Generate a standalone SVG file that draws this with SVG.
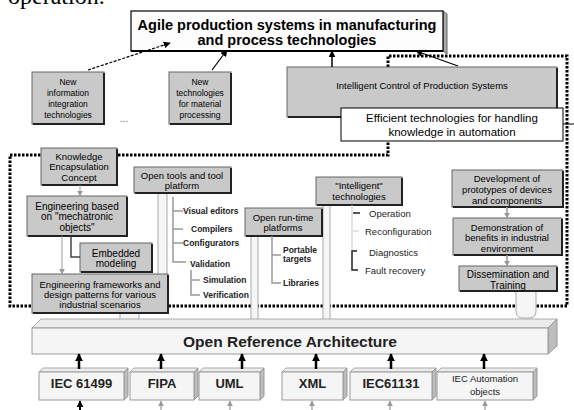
<svg xmlns="http://www.w3.org/2000/svg" width="574" height="410" viewBox="0 0 574 410">
<defs>
<marker id="ah" viewBox="0 0 10 10" refX="9" refY="5" markerWidth="7" markerHeight="7" markerUnits="userSpaceOnUse" orient="auto"><path d="M0,0 L10,5 L0,10 z" fill="#000"/></marker>
<marker id="ahb" viewBox="0 0 10 10" refX="9" refY="5" markerWidth="8" markerHeight="8" markerUnits="userSpaceOnUse" orient="auto"><path d="M0,0 L10,5 L0,10 z" fill="#000"/></marker>
<marker id="ahg" viewBox="0 0 10 10" refX="9" refY="5" markerWidth="6" markerHeight="6" markerUnits="userSpaceOnUse" orient="auto"><path d="M0,0 L10,5 L0,10 z" fill="#999"/></marker>
</defs>
<style>
text{font-family:"Liberation Sans",Arial,sans-serif;fill:#000}
.c{text-anchor:middle}
.s8{font-size:8.5px}
.s9{font-size:9.5px}
.s10{font-size:10px}
.b{font-weight:bold}
.tree{font-size:8.5px;font-weight:bold;fill:#222}
.it{font-size:9.5px;fill:#222}
.g{fill:#c9c9c9;stroke:#666;stroke-width:1}
.sh{fill:none;stroke:#222;stroke-width:2}
.w{fill:#fff;stroke:#000;stroke-width:1}
.col{fill:#f6f6f6;stroke:#aaa;stroke-width:1}
.tl{fill:none;stroke:#999;stroke-width:1.5}
.tk{fill:none;stroke:#222;stroke-width:1.5}
.front{fill:#f5f5f5;stroke:#999;stroke-width:1}
.top{fill:#ececec;stroke:#aaa;stroke-width:1}
.side{fill:#bdbdbd;stroke:#999;stroke-width:1}
.up{stroke:#000;stroke-width:2.5;marker-end:url(#ahb)}
.dn{stroke:#999;stroke-width:1.2;marker-end:url(#ahg)}
</style>
<rect width="574" height="410" fill="#fff"/>
<text x="8" y="4" style="font-family:'Liberation Serif',serif;font-size:24px">operation.</text>

<!-- dotted boundary -->
<path d="M388,67 V56 H567 V306 H10 V155 H388 V141" fill="none" stroke="#000" stroke-width="3" stroke-dasharray="2.5 1.5"/>
<line x1="563" y1="124" x2="574" y2="124" stroke="#000" stroke-width="1"/>

<!-- pale columns -->
<g id="columns">
<rect class="col" x="158" y="193" width="9" height="85"/>
<rect class="col" x="120" y="313" width="19" height="8"/>
<rect class="col" x="251" y="236" width="7" height="85"/>
<rect class="col" x="323" y="205" width="7" height="116"/>
<path class="col" d="M516,290 V311 Q516,318 523,318 H529 Q536,318 536,311 V290"/>
</g>

<g id="top">
<polygon points="443,11 447,14 447,54 443,51" fill="#aaa" stroke="#666" stroke-width="1"/>
<rect x="131" y="11" width="312" height="40" fill="#fdfdfd" stroke="#000" stroke-width="1.2"/>
<line x1="131" y1="51" x2="443" y2="51" stroke="#000" stroke-width="2"/>
<text class="c b" x="287" y="30" style="font-size:14.5px">Agile production systems in manufacturing</text>
<text class="c b" x="287" y="45" style="font-size:14.5px">and process technologies</text>
</g>

<g id="newinfo">
<rect class="g" x="32" y="72" width="72" height="52"/>
<path class="sh" d="M33,124 H104 V73"/>
<text class="c s8" x="68" y="84.5">New</text>
<text class="c s8" x="68" y="95.5">information</text>
<text class="c s8" x="68" y="106.5">integration</text>
<text class="c s8" x="68" y="117.5">technologies</text>
</g>
<text x="124" y="122" class="c s10" style="fill:#666">...</text>

<g id="newtech">
<rect class="g" x="169" y="72" width="62" height="52"/>
<path class="sh" d="M170,124 H231 V73"/>
<text class="c s8" x="200" y="84.5">New</text>
<text class="c s8" x="200" y="95.5">technologies</text>
<text class="c s8" x="200" y="106.5">for material</text>
<text class="c s8" x="200" y="117.5">processing</text>
</g>

<g id="intelligentcontrol">
<rect class="g" x="287" y="67" width="270" height="50"/>
<path class="sh" d="M288,117 H557 V68"/>
<text class="c s9" x="422" y="89">Intelligent  Control of Production Systems</text>
</g>

<g id="efficient">
<rect class="w" x="341" y="108" width="222" height="33"/>
<text class="c" x="452" y="122" style="font-size:11.5px">Efficient technologies for handling</text>
<text class="c" x="452" y="136" style="font-size:11.5px">knowledge in automation</text>
</g>

<g id="knowledge">
<rect class="g" x="41" y="148" width="76" height="37"/>
<path class="sh" d="M42,185 H117 V149"/>
<text class="c s9" x="79" y="159.5">Knowledge</text>
<text class="c s9" x="79" y="169.5">Encapsulation</text>
<text class="c s9" x="79" y="180.5">Concept</text>
</g>

<g id="engbased">
<rect class="g" x="27" y="196" width="100" height="40"/>
<path class="sh" d="M28,236 H127 V197"/>
<text class="c s10" x="77" y="209.5">Engineering based</text>
<text class="c s10" x="77" y="220">on "mechatronic</text>
<text class="c s10" x="77" y="230.5">objects"</text>
</g>

<g id="embedded">
<rect class="g" x="80" y="243" width="72" height="29"/>
<path class="sh" d="M81,272 H152 V244"/>
<text class="c s10" x="116" y="256.5">Embedded</text>
<text class="c s10" x="116" y="267">modeling</text>
</g>

<g id="engframeworks">
<rect class="g" x="32" y="274" width="136" height="39"/>
<path class="sh" d="M33,313 H168 V275"/>
<text class="c s9" x="100" y="287.5">Engineering frameworks and</text>
<text class="c s9" x="100" y="297.5">design patterns for various</text>
<text class="c s9" x="100" y="307.5">industrial scenarios</text>
</g>

<g id="opentools">
<rect class="g" x="134" y="167" width="97" height="26"/>
<path class="sh" d="M135,193 H231 V168"/>
<text class="c s9" x="182" y="178.5">Open tools and tool</text>
<text class="c s9" x="182" y="188.5">platform</text>
<path class="tl" d="M173,197 V262 H186 M173,211 H183 M173,229 H183 M173,243 H183 M191,270 V295 H200 M191,280 H200"/>
<text class="tree" x="183" y="214">Visual editors</text>
<text class="tree" x="191" y="232">Compilers</text>
<text class="tree" x="183" y="246">Configurators</text>
<text class="tree" x="190" y="267">Validation</text>
<text class="tree" x="203" y="283">Simulation</text>
<text class="tree" x="203" y="298">Verification</text>
</g>

<g id="openruntime">
<rect class="g" x="245" y="208" width="77" height="28"/>
<path class="sh" d="M246,236 H322 V209"/>
<text class="c s9" x="283" y="220.5">Open run-time</text>
<text class="c s9" x="283" y="230.5">platforms</text>
<path class="tl" d="M272,236 V283 H281 M272,255 H281"/>
<text class="tree" x="283" y="253">Portable</text>
<text class="tree" x="283" y="262">targets</text>
<text class="tree" x="283" y="286">Libraries</text>
</g>

<g id="inteltech">
<rect class="g" x="316" y="177" width="86" height="28"/>
<path class="sh" d="M317,205 H402 V178"/>
<text class="c s9" x="359" y="189">"Intelligent"</text>
<text class="c s9" x="359" y="199.5">technologies</text>
<path d="M352,205 V250 M353,231 H359" fill="none" stroke="#ccc" stroke-width="1"/>
<path class="tk" d="M353,213 H360 M357,251 H352 V270 H358"/>
<text class="it" x="369" y="216.5">Operation</text>
<text class="it" x="365" y="234.5">Reconfiguration</text>
<text class="it" x="369" y="255.5">Diagnostics</text>
<text class="it" x="365" y="273.5">Fault recovery</text>
</g>

<g id="development">
<rect class="g" x="452" y="170" width="111" height="37"/>
<path class="sh" d="M453,207 H563 V171"/>
<text class="c s9" x="507" y="181.5">Development of</text>
<text class="c s9" x="507" y="192.5">prototypes of devices</text>
<text class="c s9" x="507" y="203.5">and components</text>
</g>

<g id="demonstration">
<rect class="g" x="453" y="218" width="109" height="37"/>
<path class="sh" d="M454,255 H562 V219"/>
<text class="c s9" x="507" y="230.5">Demonstration of</text>
<text class="c s9" x="507" y="241">benefits in industrial</text>
<text class="c s9" x="507" y="251.5">environment</text>
</g>

<g id="dissemination">
<rect class="g" x="459" y="266" width="98" height="25"/>
<path class="sh" d="M460,291 H557 V267"/>
<text class="c s10" x="508" y="277.5">Dissemination and</text>
<text class="c s10" x="508" y="288.5">Training</text>
</g>

<g id="ora">
<polygon class="top" points="32,328 41,319 557,319 548,328"/>
<polygon class="side" points="548,328 557,319 557,346 548,354"/>
<rect class="front" x="32" y="328" width="516" height="26"/>
<text class="c b" x="290" y="347" style="font-size:15.5px;fill:#222">Open Reference Architecture</text>
</g>

<g id="iec61499">
<polygon class="top" points="39,372 43,368 128,368 124,372"/>
<polygon class="side" points="124,372 128,368 128,396 124,400"/>
<rect class="front" x="39" y="372" width="85" height="28"/>
<text class="c b" x="81.5" y="388" style="font-size:13px;fill:#222">IEC 61499</text>
</g>
<g id="fipa">
<polygon class="top" points="130,372 134,368 198,368 194,372"/>
<polygon class="side" points="194,372 198,368 198,396 194,400"/>
<rect class="front" x="130" y="372" width="64" height="28"/>
<text class="c b" x="162" y="388" style="font-size:13px;fill:#222">FIPA</text>
</g>
<g id="uml">
<polygon class="top" points="199,372 203,368 264,368 260,372"/>
<polygon class="side" points="260,372 264,368 264,396 260,400"/>
<rect class="front" x="199" y="372" width="61" height="28"/>
<text class="c b" x="229.5" y="388" style="font-size:13px;fill:#222">UML</text>
</g>
<g id="xml">
<polygon class="top" points="282,372 286,368 347,368 343,372"/>
<polygon class="side" points="343,372 347,368 347,396 343,400"/>
<rect class="front" x="282" y="372" width="61" height="28"/>
<text class="c b" x="312.5" y="388" style="font-size:13px;fill:#222">XML</text>
</g>
<g id="iec61131">
<polygon class="top" points="350,372 354,368 436,368 432,372"/>
<polygon class="side" points="432,372 436,368 436,396 432,400"/>
<rect class="front" x="350" y="372" width="82" height="28"/>
<text class="c b" x="391" y="388" style="font-size:13px;fill:#222">IEC61131</text>
</g>
<g id="iecauto">
<polygon class="top" points="437,372 441,368 537,368 533,372"/>
<polygon class="side" points="533,372 537,368 537,396 533,400"/>
<rect class="front" x="437" y="372" width="96" height="28"/>
<text class="c" x="485" y="382" style="font-size:9.5px;fill:#222">IEC Automation</text>
<text class="c" x="485" y="395" style="font-size:9.5px;fill:#222">objects</text>
</g>

<g id="connectors">
<line x1="88" y1="70" x2="170" y2="43" stroke="#000" stroke-width="1.2" stroke-dasharray="3 1.5" marker-end="url(#ah)"/>
<line x1="212" y1="70" x2="227" y2="50" stroke="#000" stroke-width="1.2" marker-end="url(#ah)"/>
<line x1="332" y1="67" x2="332" y2="51" stroke="#000" stroke-width="1.5" marker-end="url(#ah)"/>
<line x1="458" y1="66" x2="416" y2="51" stroke="#000" stroke-width="1.2" marker-end="url(#ah)"/>
<line x1="80" y1="185" x2="80" y2="196" stroke="#999" stroke-width="1" marker-end="url(#ahg)"/>
<path d="M71,236 V257 H80" fill="none" stroke="#444" stroke-width="1.5"/>
<line x1="62" y1="236" x2="62" y2="274" stroke="#999" stroke-width="1" marker-end="url(#ahg)"/>
<line x1="507" y1="207" x2="507" y2="218" stroke="#999" stroke-width="1.5" marker-end="url(#ahg)"/>
<line x1="507" y1="255" x2="507" y2="266" stroke="#999" stroke-width="1.5" marker-end="url(#ahg)"/>
<line class="up" x1="79" y1="369" x2="79" y2="354"/>
<line class="up" x1="161" y1="369" x2="161" y2="354"/>
<line class="up" x1="242" y1="369" x2="242" y2="354"/>
<line class="up" x1="316" y1="369" x2="316" y2="354"/>
<line class="up" x1="391" y1="369" x2="391" y2="354"/>
<line class="up" x1="484" y1="369" x2="484" y2="354"/>
<line x1="80" y1="410" x2="80" y2="401" stroke="#000" stroke-width="2" marker-end="url(#ah)"/>
<line class="dn" x1="161" y1="410" x2="161" y2="401"/>
<line class="dn" x1="230" y1="410" x2="230" y2="401"/>
<line class="dn" x1="312" y1="410" x2="312" y2="401"/>
<line class="dn" x1="390" y1="410" x2="390" y2="401"/>
<line class="dn" x1="485" y1="410" x2="485" y2="401"/>
</g>
</svg>
